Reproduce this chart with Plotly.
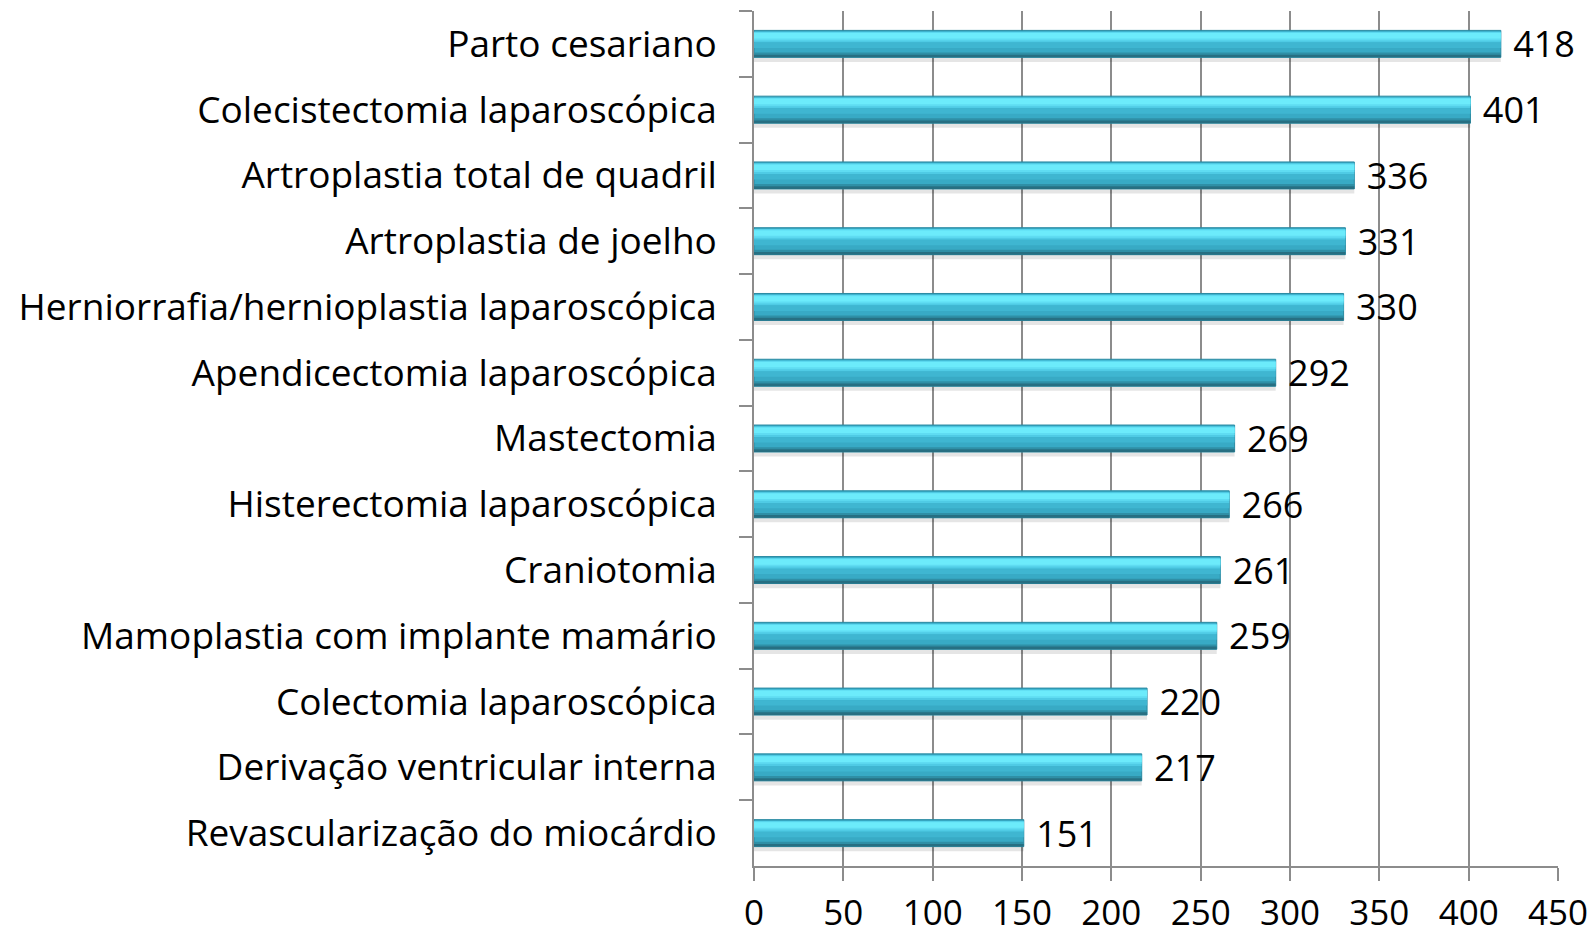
import plotly.graph_objects as go

categories = [
    "Parto cesariano",
    "Colecistectomia laparoscópica",
    "Artroplastia total de quadril",
    "Artroplastia de joelho",
    "Herniorrafia/hernioplastia laparoscópica",
    "Apendicectomia laparoscópica",
    "Mastectomia",
    "Histerectomia laparoscópica",
    "Craniotomia",
    "Mamoplastia com implante mamário",
    "Colectomia laparoscópica",
    "Derivação ventricular interna",
    "Revascularização do miocárdio",
]
values = [418, 401, 336, 331, 330, 292, 269, 266, 261, 259, 220, 217, 151]
x_ticks = [0, 50, 100, 150, 200, 250, 300, 350, 400, 450]

FONT = "Open Sans"
W = 0.41
OFF = -W / 2
fig = go.Figure()

# soft shadow below bars
fig.add_trace(go.Bar(
    x=values, y=categories, orientation="h",
    width=W, offset=OFF + 0.07,
    marker=dict(color="rgba(0,0,0,0.10)", line=dict(width=0)),
    hoverinfo="skip", showlegend=False,
))
# base bar with labels
fig.add_trace(go.Bar(
    x=values, y=categories, orientation="h",
    width=W, offset=OFF,
    marker=dict(color="#38aac5", line=dict(color="#2a8aa2", width=1)),
    text=values, texttemplate=" %{text}", textposition="outside",
    constraintext="none",
    textfont=dict(family=FONT, size=36, color="#000000"),
    cliponaxis=False, hoverinfo="skip", showlegend=False,
))
# gradient layers (fraction of bar from top, fraction height, colour)
layers = [
    (0.05, 0.40, "#4fcbe5"),
    (0.07, 0.30, "#5fdcf2"),
    (0.10, 0.20, "#6cebfb"),
    (0.45, 0.20, "#3fb6d1"),
    (0.82, 0.10, "#2f8fa6"),
    (0.90, 0.10, "#276f82"),
]
for top, h, col in layers:
    fig.add_trace(go.Bar(
        x=values, y=categories, orientation="h",
        width=W * h, offset=OFF + W * top,
        marker=dict(color=col, line=dict(width=0)),
        hoverinfo="skip", showlegend=False,
    ))

fig.update_layout(
    width=1595, height=936,
    barmode="overlay",
    plot_bgcolor="white", paper_bgcolor="white",
    margin=dict(l=754, r=37, t=11, b=70),
    font=dict(family=FONT, size=36, color="#000000"),
)
fig.update_xaxes(
    range=[0, 450], tickvals=x_ticks,
    showgrid=True, gridcolor="#8c8c8c", gridwidth=1.5,
    showline=True, linecolor="#8c8c8c", linewidth=1.5,
    ticks="outside", ticklen=13, tickcolor="#8c8c8c", tickwidth=1.5,
    tickfont=dict(family=FONT, size=35, color="#000000"),
    ticklabelstandoff=2,
    zeroline=False, automargin=False,
)
fig.update_yaxes(
    categoryorder="array", categoryarray=categories,
    autorange="reversed",
    showgrid=False,
    showline=True, linecolor="#8c8c8c", linewidth=1.5,
    ticks="outside", ticklen=13, tickcolor="#8c8c8c", tickwidth=1.5,
    tickson="boundaries",
    tickfont=dict(family=FONT, size=37, color="#000000"),
    ticklabelstandoff=28,
    automargin=False,
)

fig.write_html(
    "out.html",
    config={"displayModeBar": False},
    post_script="document.body.style.margin='0';document.body.style.overflow='hidden';",
)
